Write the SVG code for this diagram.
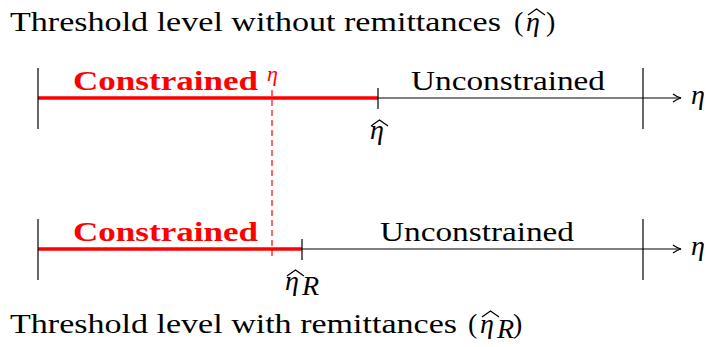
<svg xmlns="http://www.w3.org/2000/svg" width="710" height="347" viewBox="0 0 710 347">
<defs>
<marker id="arr" viewBox="0 0 10 10" refX="9" refY="5" markerWidth="10" markerHeight="10" markerUnits="userSpaceOnUse" orient="auto">
<path d="M1,1 Q5,4 9,5 Q5,6 1,9" fill="none" stroke="#000" stroke-width="1.2"/>
</marker>
<style>
text{font-family:"Liberation Serif","Times New Roman",Tinos,serif;fill:#000}
.t{font-size:28px}
.lab{font-size:27px}
.red{fill:#ff0000;font-weight:bold}
.m{font-style:italic;font-size:28px}
.ax{stroke:#000;stroke-width:1.2;fill:none}
.rl{stroke:#ff0000;stroke-width:3.5;fill:none}
.tick{stroke:#000;stroke-width:1.2}
.hat{fill:none;stroke:#000;stroke-width:1.3;stroke-linejoin:round}
</style>
</defs>
<g id="title-top">
<text class="t" x="10" y="31" textLength="491" lengthAdjust="spacingAndGlyphs">Threshold level without remittances</text>
<text class="t" x="514" y="31">(</text>
<text class="m" x="526" y="31">η</text>
<text class="t" x="546" y="31">)</text>
<path class="hat" d="M528,15 L536.5,9 L545,15"/>
</g>
<g id="title-bottom">
<text class="t" x="10" y="333" textLength="447" lengthAdjust="spacingAndGlyphs">Threshold level with remittances</text>
<text class="t" x="468" y="333">(</text>
<text class="m" x="480" y="333">η</text>
<text class="m" x="497" y="338" font-size="19">R</text>
<text class="t" x="513" y="333">)</text>
<path class="hat" d="M482,317 L490.5,311 L499,317"/>
</g>
<g id="connectors">
<line class="ax" x1="38" y1="98" x2="681" y2="98" marker-end="url(#arr)"/>
<line class="rl" x1="38" y1="98" x2="378" y2="98"/>
<line class="ax" x1="38" y1="249" x2="681" y2="249" marker-end="url(#arr)"/>
<line class="rl" x1="38" y1="249" x2="302" y2="249"/>
<line x1="272" y1="90" x2="272" y2="260" stroke="#ff0000" stroke-width="1.2" stroke-dasharray="6,4"/>
</g>
<g id="axis1">
<line class="tick" x1="38" y1="68" x2="38" y2="129"/>
<line class="tick" x1="643" y1="68" x2="643" y2="129"/>
<line class="tick" x1="378" y1="88" x2="378" y2="109"/>
<text class="lab red" x="73" y="90" textLength="185" lengthAdjust="spacingAndGlyphs">Constrained</text>
<text x="267" y="81" font-size="22" font-style="italic" style="fill:#ff0000">η</text>
<text class="lab" x="411" y="90" textLength="194" lengthAdjust="spacingAndGlyphs">Unconstrained</text>
<text class="m" x="691" y="104">η</text>
<text class="m" x="370" y="139">η</text>
<path class="hat" d="M371,126 L379.5,120 L388,126"/>
</g>
<g id="axis2">
<line class="tick" x1="38" y1="219" x2="38" y2="280"/>
<line class="tick" x1="643" y1="219" x2="643" y2="280"/>
<line class="tick" x1="302" y1="239" x2="302" y2="260"/>
<text class="lab red" x="73" y="241" textLength="185" lengthAdjust="spacingAndGlyphs">Constrained</text>
<text class="lab" x="380" y="241" textLength="194" lengthAdjust="spacingAndGlyphs">Unconstrained</text>
<text class="m" x="691" y="255">η</text>
<text class="m" x="285" y="290">η</text>
<text class="m" x="302" y="295" font-size="19">R</text>
<path class="hat" d="M287,276 L295.5,270 L304,276"/>
</g>
</svg>
